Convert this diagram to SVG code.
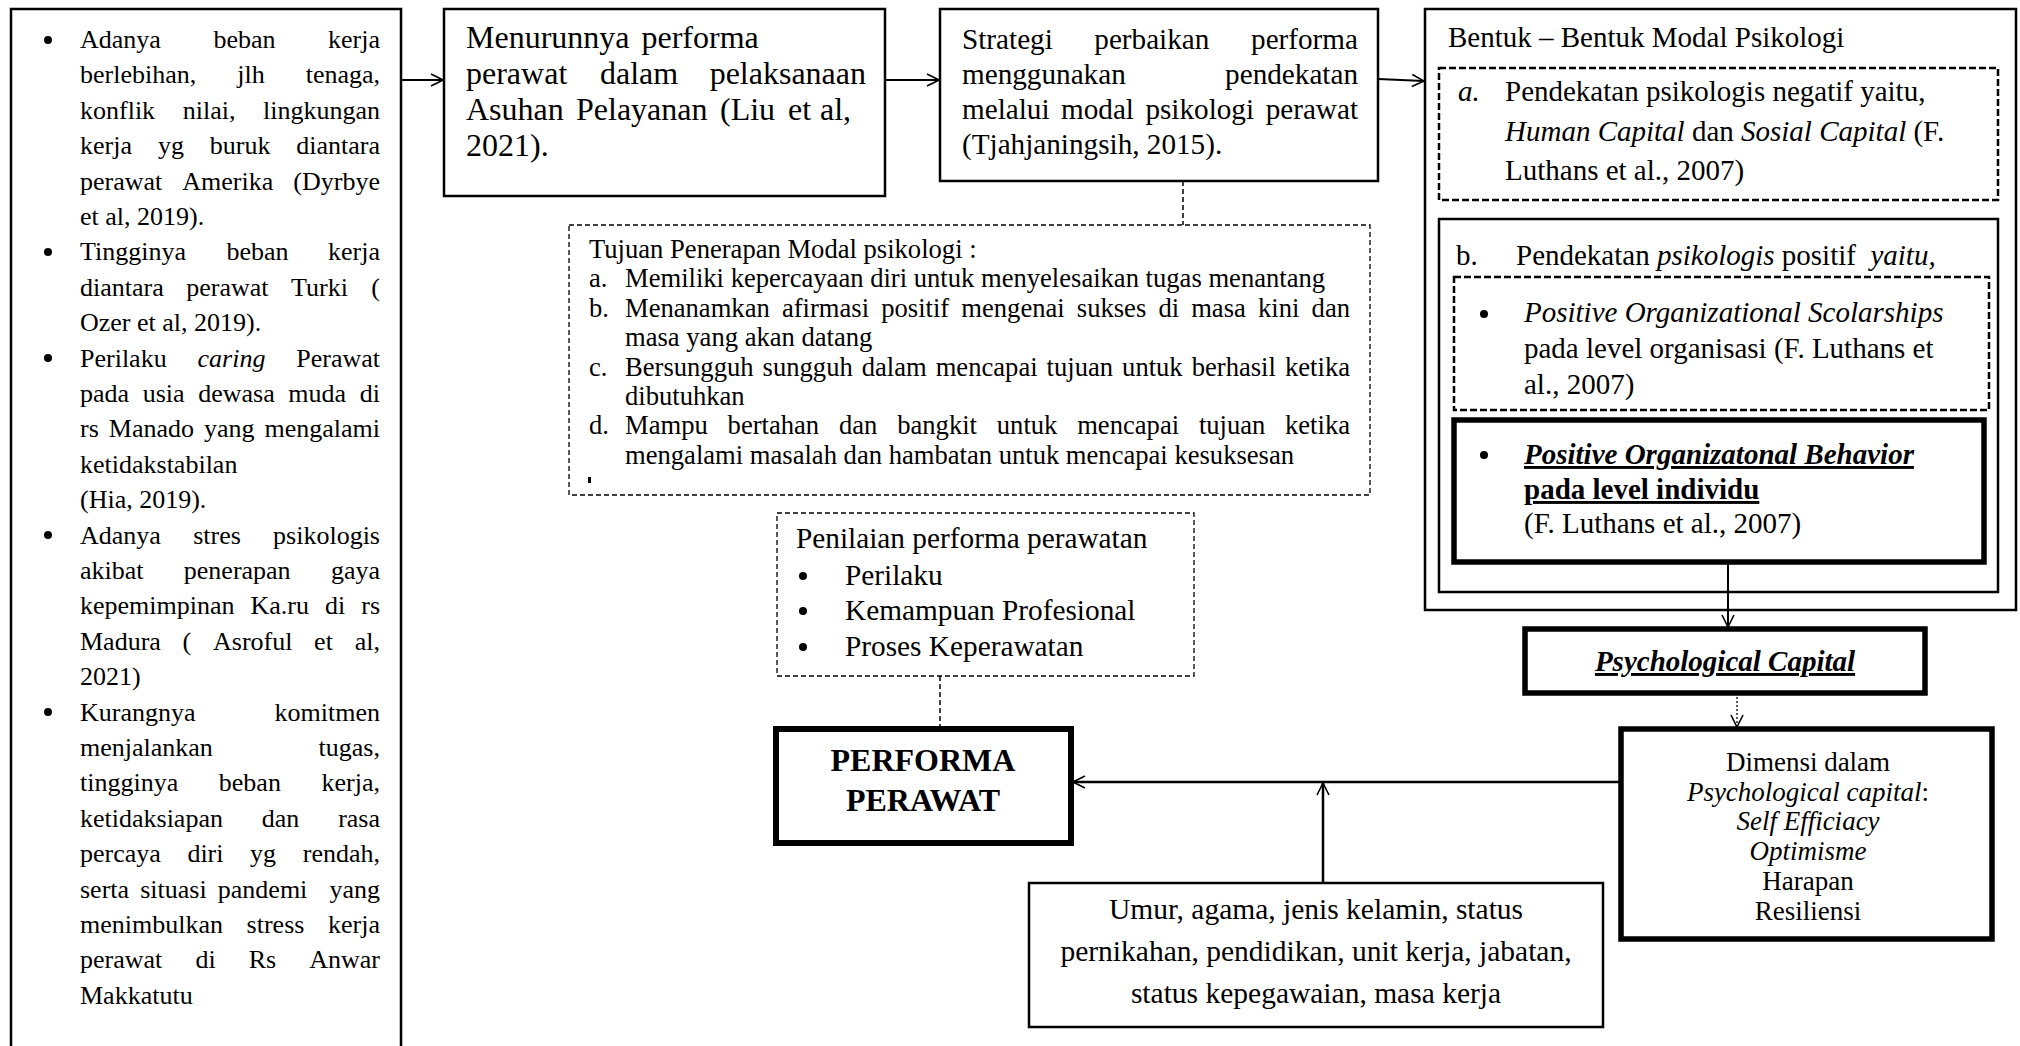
<svg xmlns="http://www.w3.org/2000/svg" width="2020" height="1046" viewBox="0 0 2020 1046" font-family="'Liberation Serif', 'Times New Roman', serif">
<defs>
<style>
text{font-family:"Liberation Serif","Times New Roman",serif;fill:#000}
.box{fill:#fff;stroke:#000;stroke-width:2.5}
.thick{fill:#fff;stroke:#000;stroke-width:5.5}
.dash{fill:none;stroke:#000;stroke-width:2.5;stroke-dasharray:7 3}
.dashthin{fill:none;stroke:#000;stroke-width:1.3;stroke-dasharray:5 3}
.conn{stroke:#000;stroke-width:2;fill:none}
.f26{font-size:26px}
.f265{font-size:26.6px}
.f29{font-size:29px}
.f32{font-size:32px}
.i{font-style:italic}
.b{font-weight:bold}
.u{text-decoration:underline}
.e{text-anchor:end}
.m{text-anchor:middle}
</style>
<marker id="arr" viewBox="0 0 14 14" refX="13" refY="7" markerWidth="14" markerHeight="14" markerUnits="userSpaceOnUse" orient="auto">
<path d="M1,1 L13,7 L1,13" fill="none" stroke="#000" stroke-width="1.6"/>
</marker>
</defs>
<rect width="2020" height="1046" fill="#fff"/>

<g id="problems">
<rect class="box" x="11" y="9" width="390" height="1050"/>
<g fill="#000">
<circle cx="48" cy="40" r="4"/><circle cx="48" cy="252" r="4"/><circle cx="48" cy="358" r="4"/><circle cx="48" cy="535" r="4"/><circle cx="48" cy="712" r="4"/>
</g>
<g class="f26">
<text y="48"><tspan x="80">Adanya</tspan><tspan x="213.4">beban</tspan><tspan x="380" class="e">kerja</tspan></text>
<text y="83.4"><tspan x="80">berlebihan,</tspan><tspan x="237.2">jlh</tspan><tspan x="380" class="e">tenaga,</tspan></text>
<text y="118.8"><tspan x="80">konflik</tspan><tspan x="182.7">nilai,</tspan><tspan x="380" class="e">lingkungan</tspan></text>
<text y="154.2"><tspan x="80">kerja</tspan><tspan x="157.9">yg</tspan><tspan x="209.8">buruk</tspan><tspan x="380" class="e">diantara</tspan></text>
<text y="189.6"><tspan x="80">perawat</tspan><tspan x="182.3">Amerika</tspan><tspan x="380" class="e">(Dyrbye</tspan></text>
<text x="80" y="225">et al, 2019).</text>
<text y="260.4"><tspan x="80">Tingginya</tspan><tspan x="226.4">beban</tspan><tspan x="380" class="e">kerja</tspan></text>
<text y="295.8"><tspan x="80">diantara</tspan><tspan x="186.2">perawat</tspan><tspan x="291">Turki</tspan><tspan x="380" class="e">(</tspan></text>
<text x="80" y="331.2">Ozer et al, 2019).</text>
<text y="366.6"><tspan x="80">Perilaku</tspan><tspan x="197.5" class="i">caring</tspan><tspan x="380" class="e">Perawat</tspan></text>
<text y="402"><tspan x="80">pada</tspan><tspan x="142.7">usia</tspan><tspan x="198.2">dewasa</tspan><tspan x="288.3">muda</tspan><tspan x="380" class="e">di</tspan></text>
<text y="437.4"><tspan x="80">rs</tspan><tspan x="108.8">Manado</tspan><tspan x="204">yang</tspan><tspan x="380" class="e">mengalami</tspan></text>
<text x="80" y="472.8">ketidakstabilan</text>
<text x="80" y="508.2">(Hia, 2019).</text>
<text y="543.6"><tspan x="80">Adanya</tspan><tspan x="193.2">stres</tspan><tspan x="380" class="e">psikologis</tspan></text>
<text y="579"><tspan x="80">akibat</tspan><tspan x="183.8">penerapan</tspan><tspan x="380" class="e">gaya</tspan></text>
<text y="614.4"><tspan x="80">kepemimpinan</tspan><tspan x="250.5">Ka.ru</tspan><tspan x="325">di</tspan><tspan x="380" class="e">rs</tspan></text>
<text y="649.8"><tspan x="80">Madura</tspan><tspan x="182.6">(</tspan><tspan x="213">Asroful</tspan><tspan x="314.1">et</tspan><tspan x="380" class="e">al,</tspan></text>
<text x="80" y="685.2">2021)</text>
<text y="720.6"><tspan x="80">Kurangnya</tspan><tspan x="380" class="e">komitmen</tspan></text>
<text y="756"><tspan x="80">menjalankan</tspan><tspan x="380" class="e">tugas,</tspan></text>
<text y="791.4"><tspan x="80">tingginya</tspan><tspan x="218.8">beban</tspan><tspan x="380" class="e">kerja,</tspan></text>
<text y="826.8"><tspan x="80">ketidaksiapan</tspan><tspan x="261.8">dan</tspan><tspan x="380" class="e">rasa</tspan></text>
<text y="862.2"><tspan x="80">percaya</tspan><tspan x="187.4">diri</tspan><tspan x="250.1">yg</tspan><tspan x="380" class="e">rendah,</tspan></text>
<text y="897.6"><tspan x="80">serta</tspan><tspan x="140.2">situasi</tspan><tspan x="217.8">pandemi</tspan><tspan x="380" class="e">yang</tspan></text>
<text y="933"><tspan x="80">menimbulkan</tspan><tspan x="246.6">stress</tspan><tspan x="380" class="e">kerja</tspan></text>
<text y="968.4"><tspan x="80">perawat</tspan><tspan x="195.4">di</tspan><tspan x="248.7">Rs</tspan><tspan x="380" class="e">Anwar</tspan></text>
<text x="80" y="1003.8">Makkatutu</text>
</g>
</g>

<g id="decline">
<rect class="box" x="444" y="9" width="441" height="187"/>
<g class="f32">
<text y="48"><tspan x="466">Menurunnya</tspan><tspan x="641.5">performa</tspan></text>
<text y="84"><tspan x="466">perawat</tspan><tspan x="600">dalam</tspan><tspan x="866" class="e">pelaksanaan</tspan></text>
<text y="120"><tspan x="466">Asuhan</tspan><tspan x="576">Pelayanan</tspan><tspan x="720">(Liu</tspan><tspan x="788">et</tspan><tspan x="820">al,</tspan></text>
<text x="466" y="156">2021).</text>
</g>
</g>

<g id="strategy">
<rect class="box" x="940" y="9" width="438" height="172"/>
<g style="font-size:29.2px">
<text y="49"><tspan x="962">Strategi</tspan><tspan x="1094.3">perbaikan</tspan><tspan x="1358" class="e">performa</tspan></text>
<text y="84"><tspan x="962">menggunakan</tspan><tspan x="1358" class="e">pendekatan</tspan></text>
<text y="119"><tspan x="962">melalui</tspan><tspan x="1061">modal</tspan><tspan x="1145.4">psikologi</tspan><tspan x="1358" class="e">perawat</tspan></text>
<text x="962" y="154">(Tjahjaningsih, 2015).</text>
</g>
</g>

<g id="goals">
<rect class="dashthin" x="569" y="225" width="801" height="270"/>
<g class="f265">
<text x="589" y="258">Tujuan Penerapan Modal psikologi :</text>
<text x="589" y="287.4">a.</text>
<text x="625" y="287.4">Memiliki kepercayaan diri untuk menyelesaikan tugas menantang</text>
<text x="589" y="316.8">b.</text>
<text y="316.8"><tspan x="625">Menanamkan</tspan><tspan x="781.9">afirmasi</tspan><tspan x="881.2">positif</tspan><tspan x="961.3">mengenai</tspan><tspan x="1076.8">sukses</tspan><tspan x="1158.4">di</tspan><tspan x="1191.2">masa</tspan><tspan x="1258">kini</tspan><tspan x="1350" class="e">dan</tspan></text>
<text x="625" y="346.2">masa yang akan datang</text>
<text x="589" y="375.6">c.</text>
<text y="375.6"><tspan x="625">Bersungguh</tspan><tspan x="762.6">sungguh</tspan><tspan x="861.7">dalam</tspan><tspan x="935.7">mencapai</tspan><tspan x="1046.6">tujuan</tspan><tspan x="1122.1">untuk</tspan><tspan x="1191.7">berhasil</tspan><tspan x="1350" class="e">ketika</tspan></text>
<text x="625" y="405">dibutuhkan</text>
<text x="589" y="434.4">d.</text>
<text y="434.4"><tspan x="625">Mampu</tspan><tspan x="727.6">bertahan</tspan><tspan x="839">dan</tspan><tspan x="897.2">bangkit</tspan><tspan x="996.8">untuk</tspan><tspan x="1077.2">mencapai</tspan><tspan x="1198.9">tujuan</tspan><tspan x="1350" class="e">ketika</tspan></text>
<text x="625" y="463.8">mengalami masalah dan hambatan untuk mencapai kesuksesan</text>
</g>
<rect x="588" y="477" width="3" height="6" fill="#000"/>
</g>

<g id="forms">
<rect class="box" x="1425" y="9" width="591" height="601"/>
<text class="f29" x="1448" y="47">Bentuk – Bentuk Modal Psikologi</text>
</g>

<g id="negative-approach">
<rect class="dash" x="1439" y="68" width="559" height="132"/>
<g class="f29">
<text x="1458" y="101" class="i">a.</text>
<text x="1505" y="101">Pendekatan psikologis negatif yaitu,</text>
<text x="1505" y="141" xml:space="preserve"><tspan class="i">Human Capital</tspan> dan <tspan class="i">Sosial Capital</tspan> (F.</text>
<text x="1505" y="180">Luthans et al., 2007)</text>
</g>
</g>

<g id="positive-approach">
<rect class="box" x="1439" y="219" width="559" height="373"/>
<g class="f29">
<text x="1456" y="265">b.</text>
<text x="1516" y="265" xml:space="preserve">Pendekatan <tspan class="i">psikologis</tspan> positif  <tspan class="i">yaitu,</tspan></text>
</g>
</g>

<g id="pos">
<rect class="dash" x="1454" y="277" width="535" height="133"/>
<circle cx="1484" cy="314" r="4"/>
<g class="f29">
<text x="1524" y="322" class="i">Positive Organizational Scolarships</text>
<text x="1524" y="358">pada level organisasi (F. Luthans et</text>
<text x="1524" y="394">al., 2007)</text>
</g>
</g>

<g id="pob">
<rect class="thick" x="1454" y="420" width="530" height="142"/>
<circle cx="1484" cy="455" r="4"/>
<g class="f29">
<text x="1524" y="464" class="i b u">Positive Organizatonal Behavior</text>
<text x="1524" y="499" class="b u">pada level individu</text>
<text x="1524" y="533">(F. Luthans et al., 2007)</text>
</g>
</g>

<g id="psycap">
<rect class="thick" x="1525" y="629" width="400" height="64"/>
<text class="f29 i b u m" x="1725" y="671">Psychological Capital</text>
</g>

<g id="dimensions">
<rect class="thick" x="1621" y="729" width="371" height="210"/>
<g style="font-size:27px" class="m">
<text x="1808" y="771">Dimensi dalam</text>
<text x="1808" y="800.7"><tspan class="i">Psychological capital</tspan>:</text>
<text x="1808" y="830.4" class="i">Self Efficiacy</text>
<text x="1808" y="860.1" class="i">Optimisme</text>
<text x="1808" y="889.8">Harapan</text>
<text x="1808" y="919.5">Resiliensi</text>
</g>
</g>

<g id="assessment">
<rect class="dashthin" x="777" y="513" width="417" height="163"/>
<circle cx="803" cy="576" r="4"/><circle cx="803" cy="611" r="4"/><circle cx="803" cy="647" r="4"/>
<g style="font-size:29.3px">
<text x="796" y="548">Penilaian performa perawatan</text>
<text x="845" y="585">Perilaku</text>
<text x="845" y="620">Kemampuan Profesional</text>
<text x="845" y="656">Proses Keperawatan</text>
</g>
</g>

<g id="performance">
<rect class="box" style="stroke-width:6" x="776" y="729" width="295" height="114"/>
<g style="font-size:32px" class="b m">
<text x="923" y="771">PERFORMA</text>
<text x="923" y="811">PERAWAT</text>
</g>
</g>

<g id="demographics">
<rect class="box" x="1029" y="883" width="574" height="144"/>
<g style="font-size:29.5px" class="m">
<text x="1316" y="919">Umur, agama, jenis kelamin, status</text>
<text x="1316" y="961">pernikahan, pendidikan, unit kerja, jabatan,</text>
<text x="1316" y="1003">status kepegawaian, masa kerja</text>
</g>
</g>

<g id="connectors">
<line class="conn" x1="401" y1="80" x2="443" y2="80" marker-end="url(#arr)"/>
<line class="conn" x1="885" y1="80" x2="939" y2="80" marker-end="url(#arr)"/>
<line class="conn" x1="1378" y1="79" x2="1424" y2="81" marker-end="url(#arr)"/>
<line class="conn" x1="1183" y1="181" x2="1183" y2="225" stroke-dasharray="5 3" style="stroke-width:1.5"/>
<line class="conn" x1="1728" y1="562" x2="1728" y2="627" marker-end="url(#arr)"/>
<line class="conn" x1="1737" y1="693" x2="1737" y2="727" stroke-dasharray="2 2" style="stroke-width:1.3" marker-end="url(#arr)"/>
<line class="conn" x1="1621" y1="782" x2="1073" y2="782" style="stroke-width:2.5" marker-end="url(#arr)"/>
<line class="conn" x1="1323" y1="883" x2="1323" y2="783" style="stroke-width:2.5" marker-end="url(#arr)"/>
<line class="conn" x1="940" y1="676" x2="940" y2="729" stroke-dasharray="5 3" style="stroke-width:1.5"/>
</g>
</svg>
